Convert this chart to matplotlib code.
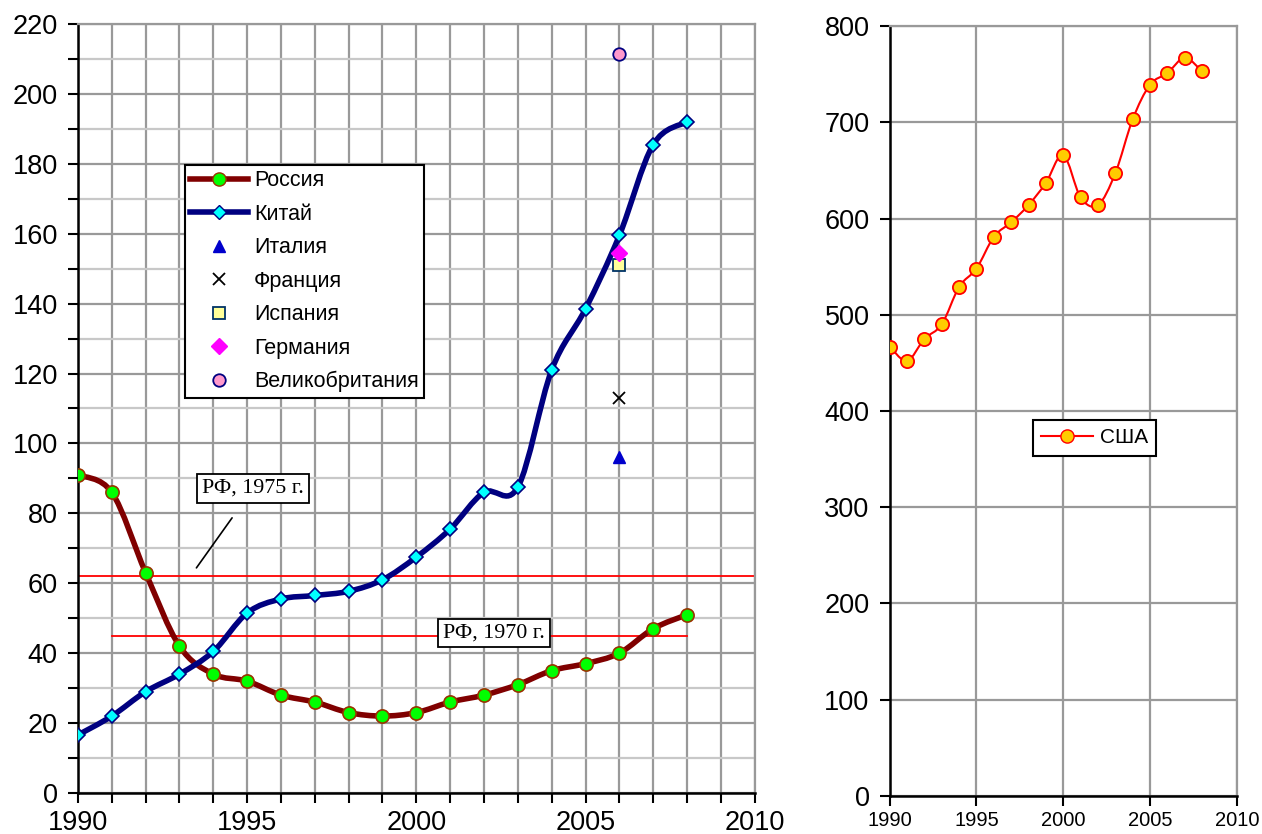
import numpy as np
import matplotlib
matplotlib.use('Agg')
import matplotlib.pyplot as plt
from matplotlib.path import Path
from matplotlib.patches import PathPatch
from matplotlib.lines import Line2D
from matplotlib.ticker import MultipleLocator

plt.rcParams['font.family'] = ['Liberation Sans', 'DejaVu Sans']

years = list(range(1990, 2009))
russia = [91, 86, 63, 42, 34, 32, 28, 26, 23, 22, 23, 26, 28, 31, 35, 37, 40, 47, 51]
china = [16.6, 22, 29, 34, 40.5, 51.5, 55.5, 56.5, 57.7, 61, 67.5, 75.5, 86, 87.5,
         121, 138.5, 159.5, 185.5, 192]
usa = [467, 452, 475, 490, 529, 548, 581, 596, 614, 637, 666, 622, 614, 647,
       703, 739, 751, 767, 753]

year_2006 = 2006
others = {
    'Италия': 96,
    'Франция': 113,
    'Испания': 151,
    'Германия': 154.5,
    'Великобритания': 211.5,
}
rf_1975 = 62
rf_1970 = 45


def smooth_path(x, y):
    # Catmull-Rom curve as cubic beziers (like Excel "smoothed line")
    p = np.column_stack([x, y]).astype(float)
    pts = np.vstack([p[0], p, p[-1]])
    verts = [p[0]]
    codes = [Path.MOVETO]
    for i in range(1, len(pts) - 2):
        p0, p1, p2, p3 = pts[i - 1], pts[i], pts[i + 1], pts[i + 2]
        verts += [p1 + (p2 - p0) / 6, p2 - (p3 - p1) / 6, p2]
        codes += [Path.CURVE4] * 3
    return Path(verts, codes)


fig = plt.figure(figsize=(12.62, 8.34), dpi=100)
ax1 = fig.add_axes([0.0618, 0.0492, 0.5362, 0.922])
ax2 = fig.add_axes([0.705, 0.0456, 0.275, 0.9232])

# ---- left chart
ax1.set_xlim(1990, 2010)
ax1.set_ylim(0, 220)
ax1.xaxis.set_major_locator(MultipleLocator(5))
ax1.xaxis.set_minor_locator(MultipleLocator(1))
ax1.yaxis.set_major_locator(MultipleLocator(20))
ax1.yaxis.set_minor_locator(MultipleLocator(10))
ax1.grid(which='major', color='#999999', lw=1.6)
ax1.grid(which='minor', axis='x', color='#999999', lw=1.6)
ax1.grid(which='minor', axis='y', color='#c8c8c8', lw=1.6)
ax1.set_axisbelow(True)
ax1.tick_params(which='both', direction='out', length=7.5, width=1.5, labelsize=19.5)
ax1.tick_params(axis='y', which='major', pad=7)
ax1.tick_params(axis='x', which='major', pad=5)
for s in ['top', 'right']:
    ax1.spines[s].set_color('#999999')
    ax1.spines[s].set_linewidth(1.6)
for s in ['left', 'bottom']:
    ax1.spines[s].set_linewidth(1.8)

ax1.axhline(rf_1975, color='#ff0000', lw=1.3, zorder=2)
ax1.plot([1991, 2008], [rf_1970, rf_1970], color='#ff0000', lw=1.3, zorder=2)

ax1.add_patch(PathPatch(smooth_path(years, russia), fc='none', ec='#800000',
                        lw=4, capstyle='round', zorder=3))
ax1.add_patch(PathPatch(smooth_path(years, china), fc='none', ec='#000080',
                        lw=4, capstyle='round', zorder=3))
ax1.plot(years, russia, ls='none', marker='o', ms=9.5, mfc='#00ff00',
         mec='#993300', mew=1.2, zorder=4)
ax1.plot(years, china, ls='none', marker='D', ms=7, mfc='#00ffff',
         mec='#000080', mew=1.2, zorder=4)

styles = {
    'Италия': dict(marker='^', ms=9, mfc='#0000cc', mec='#0000cc'),
    'Франция': dict(marker='x', ms=9, mec='black', mew=1.3),
    'Испания': dict(marker='s', ms=9, mfc='#ffff99', mec='#003366', mew=1.3),
    'Германия': dict(marker='D', ms=8, mfc='#ff00ff', mec='#ff00ff'),
    'Великобритания': dict(marker='o', ms=9, mfc='#ff99cc', mec='#000080', mew=1.3),
}
for name, val in others.items():
    ax1.plot([year_2006], [val], ls='none', zorder=5, **styles[name])

ax1.annotate('РФ, 1975 г.', xy=(1993.5, 64.4), xytext=(1995.18, 87.2),
             fontsize=15.8, family=['Liberation Serif'], ha='center', va='center',
             bbox=dict(boxstyle='square,pad=0.22', fc='white', ec='black', lw=1.3),
             arrowprops=dict(arrowstyle='-', color='black', lw=1.2,
                             shrinkA=13, shrinkB=0), zorder=6)
ax1.text(2002.29, 45.8, 'РФ, 1970 г.', fontsize=15.8, family=['Liberation Serif'],
         ha='center', va='center', zorder=6,
         bbox=dict(boxstyle='square,pad=0.22', fc='white', ec='black', lw=1.3))

handles = [
    Line2D([], [], color='#800000', lw=4, marker='o', ms=9.5, mfc='#00ff00',
           mec='#993300'),
    Line2D([], [], color='#000080', lw=4, marker='D', ms=7, mfc='#00ffff',
           mec='#000080'),
]
labels = ['Россия', 'Китай']
for name in others:
    handles.append(Line2D([], [], ls='none', **styles[name]))
    labels.append(name)
leg = ax1.legend(handles, labels, loc='upper left', bbox_to_anchor=(0.158, 0.817),
                 borderaxespad=0, fontsize=15.5, frameon=True, fancybox=False,
                 edgecolor='black', framealpha=1, handlelength=2.7,
                 labelspacing=0.58, handletextpad=0.25, borderpad=0.25)
leg.get_frame().set_linewidth(1.5)
leg.set_zorder(7)

# ---- right chart
ax2.set_xlim(1990, 2010)
ax2.set_ylim(0, 800)
ax2.xaxis.set_major_locator(MultipleLocator(5))
ax2.yaxis.set_major_locator(MultipleLocator(100))
ax2.grid(which='major', color='#999999', lw=1.6)
ax2.set_axisbelow(True)
ax2.tick_params(axis='y', direction='out', length=7.5, width=1.5, labelsize=19.5, pad=7)
ax2.tick_params(axis='x', direction='out', length=7.5, width=1.5, labelsize=14.5)
for s in ['top', 'right']:
    ax2.spines[s].set_color('#999999')
    ax2.spines[s].set_linewidth(1.6)
for s in ['left', 'bottom']:
    ax2.spines[s].set_linewidth(1.8)

ax2.add_patch(PathPatch(smooth_path(years, usa), fc='none', ec='#ff0000',
                        lw=1.5, zorder=3))
ax2.plot(years, usa, ls='none', marker='o', ms=9.5, mfc='#ffcc00',
         mec='#ff0000', mew=1.3, zorder=4)
usa_handle = Line2D([], [], color='#ff0000', lw=1.5, marker='o', ms=9.5,
                    mfc='#ffcc00', mec='#ff0000')
leg2 = ax2.legend([usa_handle], ['США'], loc='center', bbox_to_anchor=(0.59, 0.465),
                  fontsize=15, frameon=True, fancybox=False, edgecolor='black',
                  framealpha=1, handlelength=2.5, handletextpad=0.3, borderpad=0.4)
leg2.get_frame().set_linewidth(1.5)

fig.savefig('out.png', dpi=100)
